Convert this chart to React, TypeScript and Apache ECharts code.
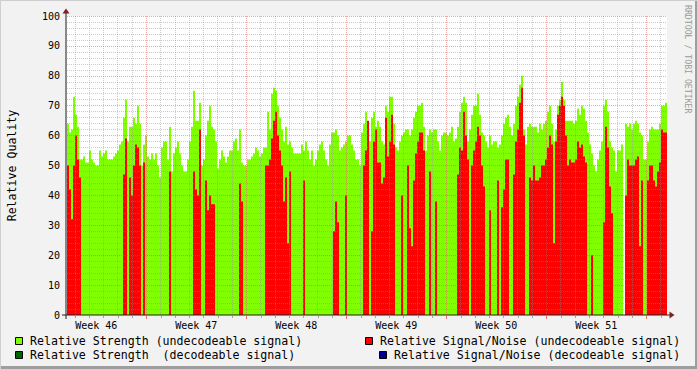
import { useEffect, useRef } from "react";
import * as echarts from "echarts";

// Relative Strength (undecodeable signal), 2-px time bins, 60 bins per segment
const strength1 = [64,61,62,73,67,63,52,52,53,51, 51,55,52,51,50,50,55,53,54,55, 52,52,52,53,54,55,57,58,66,72, 58,63,63,66,64,70,64,50,57,60, 53,52,54,52,54,50,46,56,58,58, 52,63,48,54,56,58,54,50,48,48];
const strength2 = [52,58,63,75,65,65,71,50,52,60, 65,70,63,62,58,49,52,55,53,51, 53,55,55,58,59,55,62,51,50,50, 52,52,53,54,56,55,53,54,56,56, 68,62,74,76,75,70,66,62,58,63, 57,58,56,54,54,54,54,57,55,58];
const strength3 = [55,52,55,50,52,55,57,58,55,52, 50,57,61,61,62,60,55,56,57,58, 60,60,57,55,52,52,50,61,64,68, 62,58,66,68,63,65,63,58,57,70, 68,73,73,64,56,55,58,60,61,62, 62,60,62,66,68,70,70,71,63,55];
const strength4 = [60,62,61,62,62,58,55,60,61,61, 60,61,63,58,59,63,68,71,73,71, 58,62,67,70,70,74,67,61,60,58, 56,60,57,58,58,56,57,60,64,66, 67,63,60,64,70,73,77,80,62,57, 63,64,63,63,63,61,64,62,64,65];
const strength5 = [68,70,64,58,62,70,72,78,72,65, 65,65,65,64,65,69,67,70,69,65, 61,57,54,50,48,52,55,58,70,72, 68,58,56,55,48,55,55,57,0,64, 63,64,62,64,65,64,61,60,52,52, 58,62,63,62,62,62,64,70,70,71];

// Relative Signal/Noise (undecodeable signal)
const snr1 = [50,42,32,50,60,52,46,0,0,0, 0,0,0,0,0,0,0,0,0,0, 0,0,0,0,0,0,0,0,47,59, 0,46,40,50,57,56,50,0,51,0, 0,0,0,0,0,0,0,0,0,0, 0,48,0,0,0,0,0,0,0,0];
const snr2 = [0,0,0,48,42,40,62,0,0,45, 35,40,37,37,0,0,0,0,0,0, 0,0,0,0,0,0,44,38,0,0, 0,0,0,0,0,0,0,0,0,50, 50,52,59,65,68,60,55,50,38,46, 24,48,0,0,0,0,0,0,45,0];
const snr3 = [0,0,0,0,0,0,0,0,0,0, 0,0,0,28,38,31,0,0,0,40, 0,0,0,0,0,0,0,0,50,55, 65,0,28,58,62,51,51,44,46,66, 53,58,67,57,0,0,0,40,0,0, 50,29,23,45,54,58,61,61,55,0];
const snr4 = [0,48,0,0,38,0,0,0,0,0, 0,0,0,0,0,47,56,55,68,60, 52,0,50,55,58,63,60,50,43,0, 0,35,0,0,0,45,0,36,42,52, 52,0,0,47,58,62,71,76,60,0, 0,46,45,50,45,45,46,50,50,52];
const snr5 = [56,60,57,24,58,67,70,73,70,60, 50,52,51,51,52,58,56,57,53,51, 0,0,20,0,0,0,0,0,31,63, 56,43,34,0,0,0,0,0,0,40, 52,50,50,50,52,53,23,45,0,0, 45,50,50,45,43,48,51,62,61,61];

// decodeable signal series (nothing visible in the reference)
const decodedStrength: number[] = [];
const decodedSnr: number[] = [];

const weekLabels = ["Week 46", "Week 47", "Week 48", "Week 49", "Week 50", "Week 51"];
const yMax = 100;
const yStep = 10;

const legendEntries = [
  "Relative Strength (undecodeable signal)",
  "Relative Signal/Noise (undecodeable signal)",
  "Relative Strength  (decodeable signal)",
  "Relative Signal/Noise (decodeable signal)",
];

const strength = [...strength1, ...strength2, ...strength3, ...strength4, ...strength5];
const snr = [...snr1, ...snr2, ...snr3, ...snr4, ...snr5];

const GREEN = "#7FFF00";
const RED = "#FF0000";
const DKGREEN = "#006400";
const BLUE = "#000090";
const MONO = '"DejaVu Sans Mono", monospace';

const PLOT_LEFT = 67;
const PLOT_TOP = 16;
const PLOT_W = 600;
const PLOT_H = 299;
const DAYS = 42;
const FIRST_WEEK_LINE = 5.551; // days from left edge of plot to first Monday

export default function App() {
  const ref = useRef<HTMLDivElement>(null);
  useEffect(() => {
    const chart = echarts.init(ref.current!, null, { renderer: "svg" });
    const bins = strength.map((_, i) => String(i));
    const dayPx = PLOT_W / DAYS;

    const minor = { color: "rgba(143,143,143,0.45)", type: [1, 1], width: 1 };
    const major = { color: "rgba(222,79,79,0.5)", type: [1, 1], width: 1 };
    const minorLines: any[] = [];
    const majorLines: any[] = [];
    const graphics: any[] = [];
    for (let v = 2; v <= yMax; v += 2) {
      if (v % 10 === 0) majorLines.push({ yAxis: v, lineStyle: major });
      else minorLines.push({ yAxis: v, lineStyle: minor });
    }
    for (let j = 0; j < 50; j++) {
      const d = FIRST_WEEK_LINE - 5 + j;
      if (d >= DAYS) break;
      const isMajor = (j - 5) % 7 === 0;
      if (isMajor) majorLines.push({ xAxis: d, lineStyle: major });
      else minorLines.push({ xAxis: d, lineStyle: minor });
      const px = Math.round(PLOT_LEFT + d * dayPx) + 0.5;
      graphics.push({ type: "line", shape: { x1: px, y1: 316, x2: px, y2: isMajor ? 319 : 318 }, style: { stroke: isMajor ? "rgba(222,79,79,0.8)" : "rgba(143,143,143,0.8)", lineWidth: 1 }, silent: true });
    }

    // frame
    graphics.push({ type: "rect", shape: { x: 0, y: 0, width: 697, height: 1 }, style: { fill: "#CFCFCF" }, silent: true });
    graphics.push({ type: "rect", shape: { x: 0, y: 0, width: 1, height: 369 }, style: { fill: "#CFCFCF" }, silent: true });
    graphics.push({ type: "rect", shape: { x: 1, y: 366, width: 696, height: 3 }, style: { fill: "#9E9E9E" }, silent: true });
    graphics.push({ type: "rect", shape: { x: 695, y: 1, width: 2, height: 368 }, style: { fill: "#9E9E9E" }, silent: true });
    // axes
    graphics.push({ type: "line", shape: { x1: 66, y1: 319, x2: 66, y2: 12 }, style: { stroke: "#1F1F1F", lineWidth: 1 }, silent: true, z: 20 });
    graphics.push({ type: "line", shape: { x1: 62, y1: 315, x2: 670, y2: 315 }, style: { stroke: "#1F1F1F", lineWidth: 1 }, silent: true, z: 20 });
    graphics.push({ type: "polygon", shape: { points: [[62.5, 13.5], [69.5, 13.5], [66, 8.5]] }, style: { fill: "#7F1F1F" }, silent: true, z: 21 });
    graphics.push({ type: "polygon", shape: { points: [[669.5, 311.5], [669.5, 318.5], [674.5, 315]] }, style: { fill: "#7F1F1F" }, silent: true, z: 21 });
    // week labels
    weekLabels.forEach((t, k) => {
      const d = FIRST_WEEK_LINE - 3.5 + 7 * k;
      graphics.push({
        type: "text", x: PLOT_LEFT + d * dayPx, y: 325, silent: true,
        style: { text: t, fontSize: 10, fontFamily: MONO, fill: "#000", align: "center", verticalAlign: "middle", textAlign: "center", textVerticalAlign: "middle" },
      });
    });
    // y axis title
    graphics.push({
      type: "text", x: 11.5, y: 165.5, rotation: Math.PI / 2, silent: true,
      style: { text: "Relative Quality", fontSize: 11.6, fontFamily: MONO, fill: "#000", align: "center", verticalAlign: "middle", textAlign: "center", textVerticalAlign: "middle" },
    });
    // watermark
    graphics.push({
      type: "text", x: 688, y: 5, rotation: -Math.PI / 2, silent: true,
      style: { text: "RRDTOOL / TOBI OETIKER", fontSize: 8.2, fontFamily: MONO, fill: "#9A9A9A", align: "left", verticalAlign: "middle", textAlign: "left", textVerticalAlign: "middle" },
    });
    // legend
    const legendPos = [
      { bx: 15.5, by: 337.5, tx: 30, ty: 341, color: GREEN },
      { bx: 365.5, by: 337.5, tx: 380, ty: 341, color: RED },
      { bx: 15.5, by: 351.5, tx: 30, ty: 355, color: DKGREEN },
      { bx: 379.5, by: 351.5, tx: 394, ty: 355, color: BLUE },
    ];
    legendEntries.forEach((t, i) => {
      const p = legendPos[i];
      graphics.push({ type: "rect", shape: { x: p.bx, y: p.by, width: 7, height: 7 }, style: { fill: p.color, stroke: "#000", lineWidth: 1 }, silent: true });
      graphics.push({
        type: "text", x: p.tx, y: p.ty, silent: true,
        style: { text: t, fontSize: 11.6, fontFamily: MONO, fill: "#000", align: "left", verticalAlign: "middle", textAlign: "left", textVerticalAlign: "middle", whiteSpace: "pre" },
      });
    });

    const option: any = {
      animation: false,
      backgroundColor: "#F2F2F2",
      grid: { left: PLOT_LEFT, top: PLOT_TOP, width: PLOT_W, height: PLOT_H, show: true, backgroundColor: "#FFFFFF", borderWidth: 0 },
      xAxis: [
        { type: "category", data: bins, boundaryGap: true, show: false },
        { type: "value", min: 0, max: DAYS, show: false },
      ],
      yAxis: [
        {
          type: "value", min: 0, max: yMax, interval: yStep,
          axisLine: { show: false }, axisTick: { show: false }, splitLine: { show: false },
          axisLabel: { fontSize: 10, fontFamily: MONO, color: "#000", margin: 7 },
        },
      ],
      graphic: graphics,
      series: [
        { name: legendEntries[0], type: "bar", xAxisIndex: 0, data: strength, barGap: "-100%", barCategoryGap: "0%", itemStyle: { color: GREEN }, z: 2, silent: true },
        { name: legendEntries[1], type: "bar", xAxisIndex: 0, data: snr, barGap: "-100%", barCategoryGap: "0%", itemStyle: { color: RED }, z: 3, silent: true },
        { name: legendEntries[2], type: "bar", xAxisIndex: 0, data: decodedStrength, barGap: "-100%", barCategoryGap: "0%", itemStyle: { color: DKGREEN }, z: 4, silent: true },
        { name: legendEntries[3], type: "bar", xAxisIndex: 0, data: decodedSnr, barGap: "-100%", barCategoryGap: "0%", itemStyle: { color: BLUE }, z: 4, silent: true },
        {
          type: "line", xAxisIndex: 1, yAxisIndex: 0, data: [], z: 10, silent: true,
          markLine: { silent: true, symbol: ["none", "none"], label: { show: false }, animation: false, data: [...minorLines, ...majorLines] },
        },
      ],
    };
    chart.setOption(option);
    return () => chart.dispose();
  }, []);
  return <div ref={ref} style={{ position: "fixed", left: 0, top: 0, width: 697, height: 369 }} />;
}
